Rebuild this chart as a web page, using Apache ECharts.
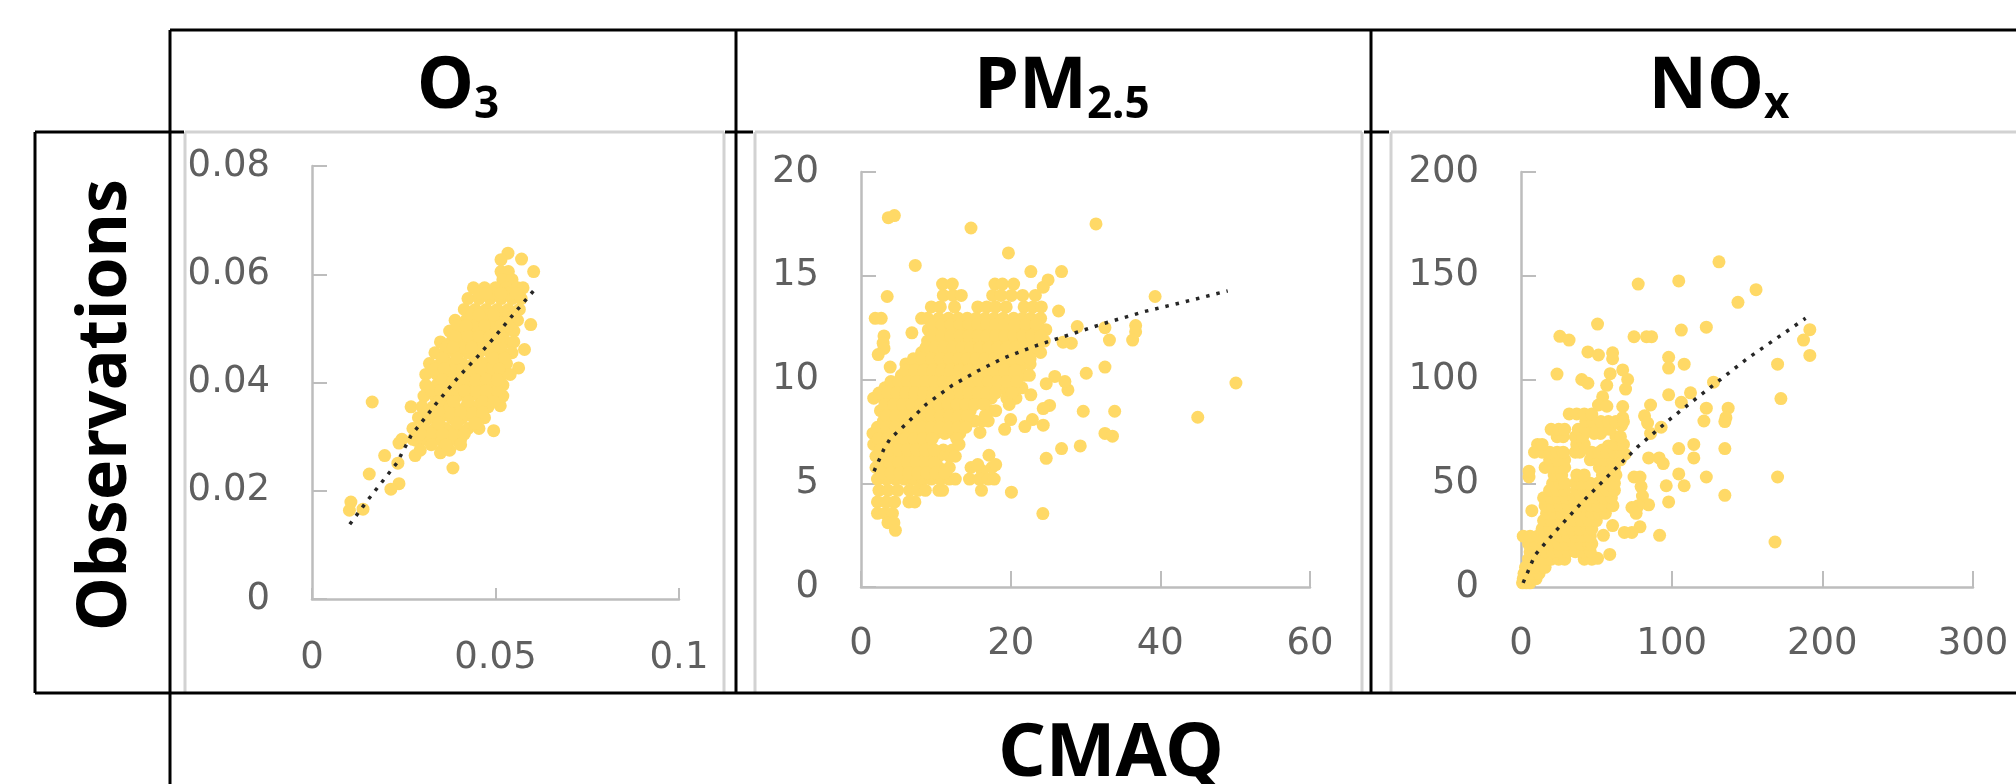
<!DOCTYPE html>
<html><head><meta charset="utf-8">
<style>html,body{margin:0;padding:0;background:#fff}#c{width:2016px;height:784px}</style>
<script src="https://cdn.jsdelivr.net/npm/echarts@6/dist/echarts.min.js"></script>
</head><body><div id="c"></div>
<script>
const panelTitles = ['O3', 'PM2.5', 'NOx'];
const xAxisTitle = 'CMAQ';
const yAxisTitle = 'Observations';

const o3Points = [
[.0164,.0364],[.0604,.0605],[.0571,.0628],[.0534,.0639],[.0515,.0627],[.0596,.0507],[.0579,.0461],[.0563,.0427],[.0513,.0357],[.0495,.0311],[.0384,.0242],[.0156,.0231],[.0198,.0265],[.0237,.0213],[.0215,.0203],[.0106,.0179],[.0102,.0164],[.0139,.0166],[.0281,.0265],[.0234,.0251],[.0237,.0288],[.0284,.0293],[.035,.027],[.0396,.0293],
[.0515,.0605],[.0535,.0605],[.052,.059],[.0545,.059],
[.044,.0575],[.047,.0575],[.05,.0575],[.053,.0575],[.056,.0575],[.0575,.0575],
[.0425,.0555],[.0455,.0555],[.0485,.0555],[.0515,.0555],[.0545,.0555],[.057,.0555],
[.0415,.0535],[.0445,.0535],[.0475,.0535],[.0505,.0535],[.0535,.0535],[.0565,.0535],
[.039,.0515],[.042,.0515],[.045,.0515],[.048,.0515],[.051,.0515],[.054,.0515],[.056,.0515],
[.0375,.0495],[.0405,.0495],[.0435,.0495],[.0465,.0495],[.0495,.0495],[.0525,.0495],[.055,.0495],
[.035,.0475],[.038,.0475],[.041,.0475],[.044,.0475],[.047,.0475],[.05,.0475],[.053,.0475],[.055,.0475],
[.0335,.0455],[.0365,.0455],[.0395,.0455],[.0425,.0455],[.0455,.0455],[.0485,.0455],[.0515,.0455],[.0545,.0455],
[.032,.0435],[.035,.0435],[.038,.0435],[.041,.0435],[.044,.0435],[.047,.0435],[.05,.0435],[.053,.0435],
[.031,.0415],[.034,.0415],[.037,.0415],[.04,.0415],[.043,.0415],[.046,.0415],[.049,.0415],[.052,.0415],[.054,.0415],
[.031,.0395],[.034,.0395],[.037,.0395],[.04,.0395],[.043,.0395],[.046,.0395],[.049,.0395],[.052,.0395],
[.0305,.0375],[.0335,.0375],[.0365,.0375],[.0395,.0375],[.0425,.0375],[.0455,.0375],[.0485,.0375],[.052,.0375],
[.027,.0355],[.03,.0355],[.033,.0355],[.036,.0355],[.039,.0355],[.042,.0355],[.045,.0355],[.048,.0355],
[.029,.0335],[.032,.0335],[.035,.0335],[.038,.0335],[.041,.0335],[.044,.0335],[.047,.0335],
[.0275,.0315],[.0305,.0315],[.0335,.0315],[.0365,.0315],[.0395,.0315],[.0425,.0315],[.0455,.0315],
[.0245,.0295],[.0275,.0295],[.0305,.0295],[.0345,.0295],[.0375,.0295],[.0405,.0295],
[.0295,.0275],[.0355,.0275],[.0375,.0275],
[.0455,.0565],[.0495,.0565],[.0535,.0565],[.0435,.0525],[.0475,.0525],[.0515,.0525],[.0395,.0505],[.0445,.0505],[.0495,.0505],[.0365,.0465],[.0415,.0465],[.0465,.0465],[.0515,.0465],[.0335,.0425],[.0385,.0425],[.0435,.0425],[.0485,.0425],[.0325,.0385],[.0385,.0385],[.0445,.0385],[.0505,.0385],[.0315,.0345],[.0375,.0345],[.0435,.0345],[.0325,.0305],[.0385,.0305],
[.0475,.0565],[.0515,.0565],[.0555,.0565],[.0455,.0525],[.0495,.0525],[.0535,.0525],[.042,.0505],[.047,.0505],[.0515,.0505],[.0535,.0505],[.039,.0485],[.0425,.0485],[.0455,.0485],[.0485,.0485],[.0515,.0485],[.0385,.0465],[.0435,.0465],[.0495,.0465],[.0355,.0445],[.0395,.0445],[.0445,.0445],[.0495,.0445],[.0525,.0445],[.036,.0425],[.041,.0425],[.046,.0425],[.051,.0425],[.0355,.0405],[.0385,.0405],[.0415,.0405],[.0445,.0405],[.0475,.0405],[.0505,.0405],[.035,.0385],[.0415,.0385],[.0475,.0385],[.0345,.0365],[.0385,.0365],[.0425,.0365],[.0465,.0365],[.0495,.0365],[.0345,.0345],[.0405,.0345],[.0465,.0345],[.0305,.0325],[.0345,.0325],[.0395,.0325],[.0445,.0325],[.0355,.0305],[.0415,.0305],[.0295,.0305],[.0325,.0285],[.0365,.0285],[.0405,.0285]
];
const o3Trend = [[.0103,.0138],[.015,.0181],[.0231,.0251],[.027,.0302],[.0336,.0359],[.04,.0411],[.045,.0447],[.0495,.0482],[.055,.0527],[.0607,.0572]];

const pmPoints = [
[3.65,17.8],[4.46,17.9],[14.7,17.3],[31.4,17.5],[19.7,16.1],[7.25,15.5],[22.7,15.2],[26.8,15.2],[3.5,14],[39.3,14],[1.9,12.95],[2.7,12.95],[6.8,12.25],[3.07,12.1],[2.96,11.75],[3.07,11.5],[2.3,11.2],[3.9,10.6],[50.1,9.83],[45,8.18],[36.7,12.6],[36.7,12.3],[36.3,11.9],[33.2,11.9],[32.6,12.5],[28.9,12.55],[32.6,10.6],[30.1,10.3],[33.9,8.47],[29.7,8.47],[32.6,7.4],[33.6,7.27],[29.3,6.8],[26.8,6.67],[24.75,6.2],[24.3,3.54],[20.1,4.57],[17.1,6.35],[27.65,9.5],[27.25,9.9],[25.9,10.15],[24.75,9.8],[25.2,8.75],[24.35,8.6],[24.35,7.8],[22.9,8.07],[21.9,7.73],[20,8.07],[19.2,7.6],[15.9,7.45],[22.7,9.26],[26.4,13.3],[25,14.8],[24.35,14.45],[28.1,11.75],[27,11.8],
[10.9,14.6],[12.2,14.6],[17.9,14.6],[18.9,14.6],[20.4,14.6],
[11,14.05],[12.3,14.05],[13.4,14.05],[17.6,14.05],[18.7,14.05],[20.1,14.05],[21.6,14.05],[23.3,14.05],
[9.4,13.5],[10.6,13.5],[12.5,13.5],[15.6,13.5],[16.8,13.5],[18,13.5],[19.4,13.5],[21.8,13.5],[23,13.5],[24.1,13.5],
[8.1,12.95],[8.9,12.95],[10.4,12.95],[11.7,12.95],[13,12.95],[14.2,12.95],[15.4,12.95],[16.6,12.95],[17.8,12.95],[19,12.95],[20.4,12.95],[21.6,12.95],[22.7,12.95],[24,12.95],
[9,12.4],[10.2,12.4],[11.4,12.4],[12.6,12.4],[13.8,12.4],[15,12.4],[16.2,12.4],[17.5,12.4],[18.6,12.4],[19.9,12.4],[21,12.4],[22.2,12.4],[23.4,12.4],[24.7,12.4],
[8.9,11.85],[10,11.85],[11.2,11.85],[12.4,11.85],[13.6,11.85],[14.8,11.85],[16,11.85],[17.2,11.85],[18.4,11.85],[19.6,11.85],[20.8,11.85],[22,11.85],[23.2,11.85],[24.5,11.85],
[8.1,11.3],[9.3,11.3],[10.5,11.3],[11.7,11.3],[12.9,11.3],[14.1,11.3],[15.3,11.3],[16.5,11.3],[17.7,11.3],[18.9,11.3],[20.1,11.3],[21.3,11.3],[22.5,11.3],[24,11.3],
[6,10.75],[7.2,10.75],[8.4,10.75],[9.6,10.75],[10.8,10.75],[12,10.75],[13.2,10.75],[14.4,10.75],[15.6,10.75],[16.8,10.75],[18,10.75],[19.2,10.75],[20.4,10.75],[21.6,10.75],[22.6,10.75],
[5.4,10.2],[6.6,10.2],[7.8,10.2],[9,10.2],[10.2,10.2],[11.4,10.2],[12.6,10.2],[13.8,10.2],[15,10.2],[16.2,10.2],[17.4,10.2],[18.6,10.2],[20,10.2],[21.8,10.2],[22.5,10.2],
[3.2,9.6],[4.4,9.6],[5.6,9.6],[6.8,9.6],[8,9.6],[9.2,9.6],[10.4,9.6],[11.6,9.6],[12.8,9.6],[14,9.6],[15.2,9.6],[16.4,9.6],[17.6,9.6],[18.8,9.6],[20,9.6],[21.5,9.6],
[1.7,9.1],[3,9.1],[4.2,9.1],[5.4,9.1],[6.6,9.1],[7.8,9.1],[9,9.1],[10.2,9.1],[11.4,9.1],[12.6,9.1],[13.8,9.1],[15,9.1],[16.2,9.1],[17.4,9.1],[19.5,9.1],[20.7,9.1],
[2.6,8.5],[3.8,8.5],[5,8.5],[6.2,8.5],[7.4,8.5],[8.6,8.5],[9.8,8.5],[11,8.5],[12.2,8.5],[13.4,8.5],[14.6,8.5],[17.2,8.5],[18,8.5],
[3,8],[4.2,8],[5.4,8],[6.6,8],[7.8,8],[9,8],[10.2,8],[11.4,8],[12.6,8],[13.8,8],[15.2,8],[16.2,8],[17,8],
[1.6,7.4],[2.8,7.4],[4,7.4],[5.2,7.4],[6.4,7.4],[7.6,7.4],[8.8,7.4],[10,7.4],[11.2,7.4],[12.4,7.4],[13.2,7.4],
[1.7,6.87],[2.9,6.87],[4.1,6.87],[5.3,6.87],[6.5,6.87],[7.7,6.87],[8.9,6.87],[11,6.6],[12.2,6.6],[13.1,6.87],
[2,6.3],[3.2,6.3],[4.4,6.3],[5.6,6.3],[6.8,6.3],[8,6.3],[9.2,6.3],[10.4,6.3],[11.8,6.3],[12.6,6.3],
[2,5.76],[3.2,5.76],[4.4,5.76],[5.6,5.76],[6.8,5.76],[8,5.76],[9.2,5.76],[10.4,5.76],[11.8,5.76],[14.7,5.76],[16.2,5.6],[17.5,5.76],[18,5.9],
[2.2,5.2],[3.4,5.2],[4.6,5.2],[5.8,5.2],[7,5.2],[8.2,5.2],[9.4,5.2],[10.6,5.2],[11.8,5.2],[12.6,5.2],[14.5,5.2],[15.8,5.2],[17,5.2],[17.8,5.2],
[2.4,4.66],[3.6,4.66],[4.9,4.66],[6.5,4.66],[7.6,4.66],[8.6,4.66],[10.4,4.66],[10.9,4.66],[16.1,4.66],
[2.2,4.1],[3.4,4.1],[4.5,4.1],[6.4,4.1],[7.2,4.1],
[2.2,3.55],[3.2,3.55],[4.2,3.55],[3.6,3.1],[4.4,3.1],[4.6,2.73],
[9.6,12.65],[10.8,12.65],[12,12.65],[13.2,12.65],[14.4,12.65],[15.6,12.65],[16.8,12.65],[18,12.65],[19.2,12.65],[20.6,12.65],[22,12.65],[23.4,12.65],
[9.6,12.1],[10.8,12.1],[12,12.1],[13.2,12.1],[14.4,12.1],[15.6,12.1],[16.8,12.1],[18,12.1],[19.2,12.1],[20.4,12.1],[21.6,12.1],[22.8,12.1],[24,12.1],
[8.7,11.55],[9.9,11.55],[11.1,11.55],[12.3,11.55],[13.5,11.55],[14.7,11.55],[15.9,11.55],[17.1,11.55],[18.3,11.55],[19.5,11.55],[20.7,11.55],[21.9,11.55],[23.1,11.55],
[7,11],[8.2,11],[9.4,11],[10.6,11],[11.8,11],[13,11],[14.2,11],[15.4,11],[16.6,11],[17.8,11],[19,11],[20.2,11],[21.4,11],[22.6,11],
[6,10.45],[7.2,10.45],[8.4,10.45],[9.6,10.45],[10.8,10.45],[12,10.45],[13.2,10.45],[14.4,10.45],[15.6,10.45],[16.8,10.45],[18,10.45],[19.2,10.45],[20.6,10.45],
[4,9.9],[5,9.9],[6.2,9.9],[7.4,9.9],[8.6,9.9],[9.8,9.9],[11,9.9],[12.2,9.9],[13.4,9.9],[14.6,9.9],[15.8,9.9],[17,9.9],[18.2,9.9],[19.4,9.9],[20.8,9.9],
[2.4,9.35],[3.6,9.35],[4.8,9.35],[6,9.35],[7.2,9.35],[8.4,9.35],[9.6,9.35],[10.8,9.35],[12,9.35],[13.2,9.35],[14.4,9.35],[15.6,9.35],[16.8,9.35],[18,9.35],[20.2,9.35],
[3.2,8.8],[4.4,8.8],[5.6,8.8],[6.8,8.8],[8,8.8],[9.2,8.8],[10.4,8.8],[11.6,8.8],[12.8,8.8],[14,8.8],[15.2,8.8],[16.4,8.8],[19.8,8.8],
[3.4,8.25],[4.6,8.25],[5.8,8.25],[7,8.25],[8.2,8.25],[9.4,8.25],[10.6,8.25],[11.8,8.25],[13,8.25],[14.2,8.25],[16.6,8.25],
[2.2,7.7],[3.4,7.7],[4.6,7.7],[5.8,7.7],[7,7.7],[8.2,7.7],[9.4,7.7],[10.6,7.7],[11.8,7.7],[13,7.7],[14,7.7],
[2.3,7.15],[3.5,7.15],[4.7,7.15],[5.9,7.15],[7.1,7.15],[8.3,7.15],[9.5,7.15],[12.8,7.15],
[2.6,6.6],[3.8,6.6],[5,6.6],[6.2,6.6],[7.4,6.6],[8.6,6.6],[9.8,6.6],
[2.6,6],[3.8,6],[5,6],[6.2,6],[7.4,6],[8.6,6],[9.8,6],[15.6,5.9],
[2.8,5.5],[4,5.5],[5.2,5.5],[6.4,5.5],[7.6,5.5],[8.8,5.5],[10,5.5],[11.2,5.5]
];
const pmTrend = [[1.74,5.58],[3.07,6.65],[3.9,7.15],[6.1,7.88],[8.7,8.8],[12.2,9.72],[15.65,10.42],[18.84,11],[22.9,11.57],[27,12.06],[32.2,12.67],[37.7,13.26],[43.2,13.74],[49,14.27]];

const noxPoints = [
[131.4,156.7],[77.8,146],[104.7,147.5],[156,143.3],[144,137.2],[50.8,126.7],[123,125.2],[106.4,123.8],[25.8,120.8],[31.9,119],[75,120.6],[83.3,120.6],[86.7,120.6],[191.7,124],[187.5,119],[191.7,111.6],[170.3,107.4],[108.3,107.4],[98,110.7],[98,105.5],[44.4,113.3],[51.4,111.8],[60.8,112.9],[60.8,110],[23.9,102.6],[40.3,100],[44.4,98.2],[67.5,104.6],[70.8,100],[69.4,95.4],[59.2,102.8],[56.9,97.2],[54.2,91.7],[172.5,90.8],[98,92.6],[112.5,93.6],[127.8,98.7],[106.4,89],[123,86.2],[137.5,86.2],[136,81.6],[135.3,79.7],[121.4,80],[86,87.7],[82,82.5],[51.4,87.7],[57,87.1],[67.5,87],[67.5,81.6],[66.7,77.9],[104.7,66.7],[114.7,68.7],[114.7,62.2],[135.3,66.7],[104.7,54.5],[123,53],[170.3,53],[108.3,48.8],[96.4,48.8],[135.3,44.2],[98,41],[92,24.9],[168.6,21.7],[5.3,53],[5.3,55.8],[7.2,36.8],[91.7,62.2],[94.4,59.5],[84.7,62.2],[86,74],[93,77],[84,79],
[75,53],[79,53],[79.7,48.4],[80.6,43.8],[84.7,39.6],[77.8,39.2],[73.6,38.3],[76.4,35.5],[79,29],[73.6,26.3],[68.6,26.3],[60.8,29.6],[54.7,24.9],[58.9,15.7],[50.8,13.8],
[59.7,77.9],[52.8,74],[48.6,74],[65,68.7],[69,64],[58,68],[54,66],
[1,2],[3.5,2],[6,2],[1.5,4],[4,4],[7,4],[10,4],[2,6.5],[5,6.5],[8,6.5],[12,6.5],[3,9.5],[6,9.5],[9,9.5],[13,9.5],[16,9.5],
[5,13.4],[10,13.4],[15,13.4],[20,13.4],[25,13.4],[29,13.4],[42,13.4],[47,13.4],
[6,17],[11,17],[16,17],[21,17],[26,17],[31,17],[36,17],[41,17],[46,17],
[5,20.8],[10,20.8],[15,20.8],[20,20.8],[25,20.8],[30,20.8],[35,20.8],[40,20.8],[45,20.8],[47,20.8],
[1.5,24.5],[6,24.5],[11,24.5],[16,24.5],[21,24.5],[26,24.5],[31,24.5],[36,24.5],[41,24.5],[46,24.5],
[14,28],[19,28],[24,28],[29,28],[34,28],[39,28],[44,28],[47,28],
[15,32],[20,32],[25,32],[30,32],[35,32],[40,32],[45,32],[50,32],
[17,35.5],[22,35.5],[27,35.5],[32,35.5],[37,35.5],[42,35.5],[47,35.5],[52,35.5],[56,35.5],
[16,39.2],[21,39.2],[26,39.2],[31,39.2],[36,39.2],[41,39.2],[46,39.2],[51,39.2],[56,39.2],[61,39.2],
[15,43],[20,43],[25,43],[30,43],[35,43],[40,43],[45,43],[50,43],[55,43],[60,43],
[19,46.6],[24,46.6],[29,46.6],[37,46.6],[42,46.6],[47,46.6],[52,46.6],[57,46.6],[62,46.6],
[21,50],[26,50],[29,50],[36,50],[41,50],[46,50],[51,50],[56,50],[62,50],
[22,54],[27,54],[37,54],[42,54],[54,54],[58,54],[63,54],
[16,57.6],[21,57.6],[26,57.6],[29,57.6],[52,57.6],[57,57.6],[62,57.6],
[19,61.3],[24,61.3],[29,61.3],[46,61.3],[51,61.3],[56,61.3],[61,61.3],[66,61.3],
[9,65],[14,65],[19,65],[24,65],[28,65],[36,65],[39,65],[47,65],[52,65],[57,65],[62,65],[67,65],
[11,68.7],[14,68.7],[37,68.7],[42,68.7],[63,68.7],[68,68.7],
[24,72.4],[28,72.4],[36,72.4],[41,72.4],[63,72.4],[66,72.4],
[20,76],[25,76],[29,76],[38,76],[43,76],[50,76],[55,76],[59,76],
[43,79.7],[48,79.7],[53,79.7],[58,79.7],[63,79.7],[68,79.7],
[32,83.4],[37,83.4],[42,83.4],[47,83.4]
];
const noxTrend = [[1.4,2],[9.2,15.3],[22.2,26.3],[40.3,40.7],[59.7,54.9],[77.8,67.8],[98.6,80.7],[123.6,95],[150,110],[188.9,129.5]];

const o3XTicks = {max:.1, interval:.05}, o3YTicks = {max:.08, interval:.02};
const pmXTicks = {max:60, interval:20}, pmYTicks = {max:20, interval:5};
const noxXTicks = {max:300, interval:100}, noxYTicks = {max:200, interval:50};

const MARK='#FFD966', AXIS='#BDBDBD', LABEL='#5F5F5F', FONT='"DejaVu Sans"', TF='"Noto Sans"';
const grids=[
 {left:312,width:367,top:166,height:433},
 {left:861,width:449,top:172,height:415},
 {left:1521,width:452,top:172,height:415}
];
function xa(i,t,tl,m){return {type:'value',gridIndex:i,min:0,max:t.max,interval:t.interval,splitLine:{show:false},
 axisLine:{onZero:false,lineStyle:{color:AXIS,width:2.5}},axisTick:{inside:true,length:tl,lineStyle:{color:AXIS,width:2}},
 axisLabel:{color:LABEL,fontFamily:FONT,fontSize:37,margin:m}}}
function ya(i,t){return {type:'value',gridIndex:i,min:0,max:t.max,interval:t.interval,splitLine:{show:false},
 axisLine:{onZero:false,lineStyle:{color:AXIS,width:2.5}},axisTick:{inside:true,length:15,lineStyle:{color:AXIS,width:2}},
 axisLabel:{color:LABEL,fontFamily:FONT,fontSize:37,margin:42}}}
const scat=(i,d)=>({type:'scatter',xAxisIndex:i,yAxisIndex:i,data:d,symbolSize:13,itemStyle:{color:MARK,opacity:1},clip:false,z:2});
const trend=(i,d)=>({type:'line',xAxisIndex:i,yAxisIndex:i,data:d,showSymbol:false,smooth:false,clip:false,z:3,
 lineStyle:{color:'#262626',width:3.5,type:[3.5,7],cap:'butt'}});
const rich={a:{fontFamily:TF,fontWeight:700,fontSize:72,color:'#000',lineHeight:80},b:{fontFamily:TF,fontWeight:700,fontSize:44,color:'#000',verticalAlign:'bottom',padding:[28,0,0,0]}};
const titleRich=(x,a,b)=>({text:`{a|${a}}{b|${b}}`,left:x,top:42,textAlign:'center',textStyle:{rich}});
function ln(x1,y1,x2,y2,c,w,z){return {type:'line',silent:true,z,shape:{x1,y1,x2,y2},style:{stroke:c,lineWidth:w}}}
const G='#D2D2D2',K='#000';
const graphic=[
 ln(185,132,724,132,G,3,0),ln(185,132,185,692,G,3,0),ln(724,132,724,692,G,3,0),
 ln(755,132,1362,132,G,3,0),ln(755,132,755,692,G,3,0),ln(1362,132,1362,692,G,3,0),
 ln(1391,132,2016,132,G,3,0),ln(1391,132,1391,692,G,3,0),
 ln(170,30,2016,30,K,3,5),ln(170,30,170,784,K,3,5),ln(736,30,736,693,K,3,5),ln(1371,30,1371,693,K,3,5),
 ln(35,132,184,132,K,3,5),ln(725,132,753,132,K,3,5),ln(1364,132,1389,132,K,3,5),
 ln(35,132,35,693,K,3,5),ln(35,693,2016,693,K,3,5),
 {type:'text',x:1111,y:755,z:6,style:{text:xAxisTitle,fontFamily:TF,fontWeight:700,fontSize:74,fill:'#000',align:'center',verticalAlign:'middle'}},
 {type:'text',x:107,y:405,rotation:Math.PI/2,z:6,style:{text:yAxisTitle,fontFamily:TF,fontWeight:700,fontSize:68,fill:'#000',align:'center',verticalAlign:'middle'}}
];
const chart=echarts.init(document.getElementById('c'),null,{renderer:'canvas'});
chart.setOption({animation:false,backgroundColor:'#fff',
 title:[titleRich(453,'O','3'),titleRich(1057,'PM','2.5'),titleRich(1714,'NO','x')],
 grid:grids,
 xAxis:[xa(0,o3XTicks,11,41),xa(1,pmXTicks,16,39),xa(2,noxXTicks,16,39)],
 yAxis:[ya(0,o3YTicks),ya(1,pmYTicks),ya(2,noxYTicks)],
 series:[scat(0,o3Points),trend(0,o3Trend),scat(1,pmPoints),trend(1,pmTrend),scat(2,noxPoints),trend(2,noxTrend)],
 graphic
});
</script></body></html>
